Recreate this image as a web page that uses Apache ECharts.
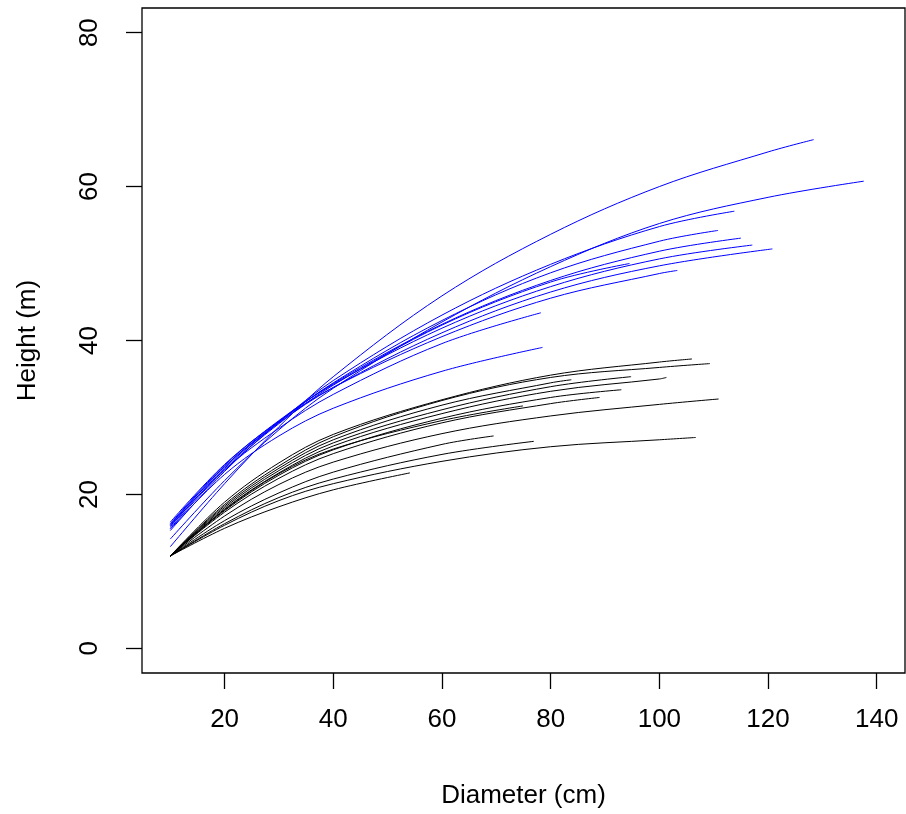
<!DOCTYPE html>
<html>
<head>
<meta charset="utf-8">
<script src="https://cdn.jsdelivr.net/npm/echarts@6/dist/echarts.min.js"></script>
<style>
  html, body { margin: 0; padding: 0; background: #fff; }
  #chart { width: 906px; height: 814px; }
</style>
</head>
<body>
<div id="chart"></div>
<script>
const gridD = [10, 20, 30, 40, 60, 80, 100, 120];

const xTicks = [20, 40, 60, 80, 100, 120, 140];
const yTicks = [0, 20, 40, 60, 80];

// blue curves: heights at gridD, then the last point of each curve
const blueH1 = [13.2, 21.4, 28.8, 35.3, 45.8, 53.8, 60.0, 64.5];
const blueH2 = [14.2, 21.8, 28.4, 33.8, 42.4, 49.6, 55.2, 58.6];
const blueH3 = [15.3, 23.0, 29.4, 34.8, 43.3, 49.9, 54.8];
const blueH4 = [15.8, 23.4, 29.4, 34.5, 42.6, 48.8, 52.9];
const blueH5 = [16.0, 23.6, 29.5, 34.4, 42.1, 47.8, 51.6];
const blueH6 = [16.2, 23.8, 29.6, 34.3, 41.6, 47.0, 50.6];
const blueH7 = [16.1, 23.6, 29.3, 33.9, 41.0, 46.3, 49.7];
const blueH8 = [16.4, 23.9, 29.5, 33.9, 40.5, 45.5, 48.7];
const blueH9 = [15.6, 23.2, 29.2, 34.2, 42.0, 47.6];
const blueH10 = [15.9, 23.2, 28.6, 33.0, 39.6];
const blueH11 = [15.5, 22.6, 27.6, 31.2, 36.0];
const blueEndD = [128.4, 137.6, 113.8, 110.8, 115.0, 117.1, 120.8, 103.3, 94.5, 78.2, 78.5];
const blueEndH = [66.1, 60.7, 56.8, 54.3, 53.3, 52.4, 51.9, 49.1, 50.0, 43.6, 39.1];

// black curves
const blackH1 = [12.0, 19.0, 24.1, 27.8, 32.3, 35.5, 37.2];
const blackH2 = [12.0, 18.7, 23.7, 27.5, 32.2, 35.2, 36.5];
const blackH3 = [12.0, 18.5, 23.4, 27.1, 31.6, 34.5];
const blackH4 = [12.0, 18.3, 23.1, 26.7, 31.0, 34.0];
const blackH5 = [12.0, 18.1, 22.8, 26.3, 30.5, 33.4, 35.0];
const blackH6 = [12.0, 17.9, 22.5, 25.8, 29.9, 32.6];
const blackH7 = [12.0, 17.7, 22.1, 25.3, 29.3, 31.8];
const blackH8 = [12.0, 17.2, 21.3, 24.2, 27.9, 30.2, 31.7];
const blackH9 = [12.0, 18.0, 22.7, 25.9, 29.6];
const blackH10 = [12.0, 16.6, 20.2, 22.9, 26.5];
const blackH11 = [12.0, 16.2, 19.6, 22.0, 25.2];
const blackH12 = [12.0, 16.0, 19.2, 21.4, 24.3, 26.2, 27.1];
const blackH13 = [12.0, 15.6, 18.4, 20.6];
const blackEndD = [106.0, 109.3, 83.8, 94.8, 101.3, 93.0, 89.0, 110.9, 74.9, 69.5, 76.9, 106.7, 54.1];
const blackEndH = [37.6, 37.0, 34.9, 35.3, 35.2, 33.6, 32.6, 32.4, 31.5, 27.6, 26.9, 27.4, 22.8];

const blueList = [blueH1, blueH2, blueH3, blueH4, blueH5, blueH6, blueH7, blueH8, blueH9, blueH10, blueH11];
const blackList = [blackH1, blackH2, blackH3, blackH4, blackH5, blackH6, blackH7, blackH8, blackH9, blackH10, blackH11, blackH12, blackH13];

function curve(heights, endD, endH) {
  const pts = heights.map((h, i) => [gridD[i], h]);
  pts.push([endD, endH]);
  return pts;
}

function makeSeries(list, endD, endH, color) {
  return list.map((hs, i) => ({
    type: 'line',
    data: curve(hs, endD[i], endH[i]),
    smooth: 0.35,
    showSymbol: false,
    silent: true,
    lineStyle: { color: color, width: 1 }
  }));
}

const font = '"Liberation Sans", Arial, Helvetica, sans-serif';

const chart = echarts.init(document.getElementById('chart'));

chart.setOption({
  animation: false,
  backgroundColor: '#fff',
  grid: {
    left: 142, right: 1, top: 8, bottom: 141,
    show: true, borderColor: '#000', borderWidth: 1.3
  },
  xAxis: {
    type: 'value',
    min: 4.8, max: 145.2,
    name: 'Diameter (cm)',
    nameLocation: 'middle',
    nameGap: 110,
    nameTextStyle: { fontFamily: font, fontSize: 26, color: '#000' },
    axisLine: { show: false, onZero: false },
    splitLine: { show: false },
    axisTick: { show: true, length: 16, customValues: xTicks, lineStyle: { color: '#000', width: 1.3 } },
    axisLabel: { customValues: xTicks, margin: 34, fontFamily: font, fontSize: 26, color: '#000' }
  },
  yAxis: {
    type: 'value',
    min: -3.2, max: 83.2,
    name: 'Height (m)',
    nameLocation: 'middle',
    nameGap: 101,
    nameTextStyle: { fontFamily: font, fontSize: 26, color: '#000' },
    axisLine: { show: false, onZero: false },
    splitLine: { show: false },
    axisTick: { show: true, length: 16, customValues: yTicks, lineStyle: { color: '#000', width: 1.3 } },
    axisLabel: { customValues: yTicks, rotate: 90, margin: 39, fontFamily: font, fontSize: 26, color: '#000' }
  },
  series: [].concat(
    makeSeries(blackList, blackEndD, blackEndH, '#000000'),
    makeSeries(blueList, blueEndD, blueEndH, '#0000ff')
  )
});
</script>
</body>
</html>
